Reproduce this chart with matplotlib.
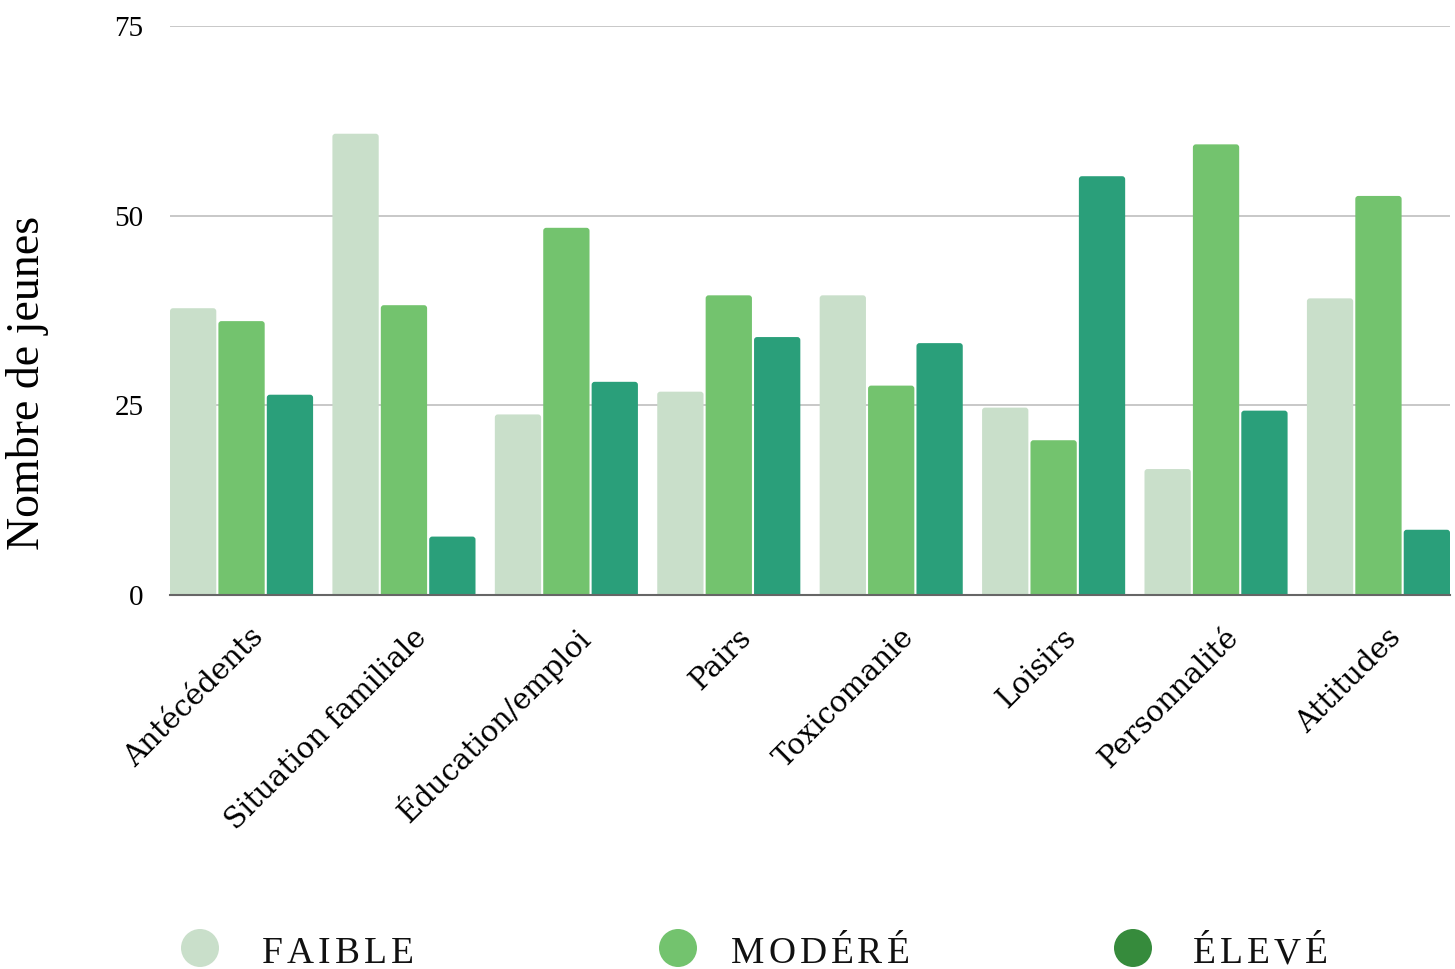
import matplotlib
matplotlib.use("Agg")
import matplotlib.pyplot as plt
import numpy as np
from matplotlib.patches import FancyBboxPatch, Ellipse
from matplotlib.transforms import ScaledTranslation

categories = ["Antécédents", "Situation familiale", "Éducation/emploi", "Pairs",
              "Toxicomanie", "Loisirs", "Personnalité", "Attitudes"]
series_names = ["FAIBLE", "MODÉRÉ", "ÉLEVÉ"]
faible = [37.8, 60.8, 23.8, 26.8, 39.5, 24.7, 16.6, 39.1]
modere = [36.1, 38.2, 48.4, 39.5, 27.6, 20.4, 59.4, 52.6]
eleve = [26.4, 7.7, 28.1, 34.0, 33.2, 55.2, 24.3, 8.6]
yticks = [0, 25, 50, 75]

bar_colors = ["#c9dfca", "#73c36e", "#2a9f7a"]
legend_colors = ["#c9dfca", "#73c36e", "#368b3c"]

W, H = 1455, 969
fig = plt.figure(figsize=(W / 100, H / 100), dpi=100)
ax = fig.add_axes([170 / W, 1 - 595 / H, 1280 / W, (595 - 26) / H])

FONT = "Liberation Serif"
LABFONT = "DejaVu Serif"
slot = 0.298
width = 0.285
x = np.arange(len(categories))
values = [faible, modere, eleve]

ax.set_xlim(-slot - width / 2, len(categories) - 1 + slot + width / 2)
ax.set_ylim(0, 75)
xpp = (ax.get_xlim()[1] - ax.get_xlim()[0]) / 1280.0
ypp = 75.0 / 569.0
radius_px = 3.0

for i, (vals, col) in enumerate(zip(values, bar_colors)):
    bars = ax.bar(x + (i - 1) * slot, vals, width=width, color=col, zorder=3)
    for r in bars:
        bx, by = r.get_x(), r.get_y()
        bw, bh = r.get_width(), r.get_height()
        ext = radius_px * 2 * ypp
        p = FancyBboxPatch((bx, by - ext), bw, bh + ext,
                           boxstyle=f"round,pad=0,rounding_size={radius_px * xpp}",
                           mutation_aspect=ypp / xpp,
                           facecolor=col, edgecolor="none", zorder=3)
        ax.add_patch(p)
        r.remove()

ax.set_yticks(yticks)
ax.set_yticklabels([str(t) for t in yticks], fontsize=21, fontfamily=FONT)
ax.tick_params(axis="y", length=0, pad=19)
ax.grid(axis="y", color="#c4c4c4", linewidth=1.3, zorder=0)
ax.set_axisbelow(True)
for s in ["top", "right", "left"]:
    ax.spines[s].set_visible(False)
ax.spines["bottom"].set_color("#666666")
ax.spines["bottom"].set_linewidth(1.5)
ax.spines["bottom"].set_zorder(4)

ax.set_xticks(x)
ax.set_xticklabels(categories, rotation=45, ha="right", va="center",
                   rotation_mode="anchor", fontsize=21, fontfamily=LABFONT)
ax.tick_params(axis="x", length=0, pad=0)
off = ScaledTranslation(18 / 100, -38 / 100, fig.dpi_scale_trans)
for lab in ax.get_xticklabels():
    lab.set_transform(lab.get_transform() + off)

fig.text(28 / W, 1 - 383 / H, "Nombre de jeunes", rotation=90, ha="center",
         va="center", fontsize=33, fontfamily=FONT)

# legend with letter spacing
fig.canvas.draw()
renderer = fig.canvas.get_renderer()
circle_x = [200, 678, 1133]
text_x = [262, 731, 1193]
spacing = 4
for name, cx, tx, col in zip(series_names, circle_x, text_x, legend_colors):
    fig.add_artist(Ellipse((cx / W, 1 - 948 / H), 38 / W, 38 / H,
                           transform=fig.transFigure, facecolor=col,
                           edgecolor="none"))
    px = tx
    for ch in name:
        t = fig.text(px / W, 1 - 963 / H, ch, ha="left", va="baseline",
                     fontsize=27, fontfamily=FONT, color="#111111")
        bb = t.get_window_extent(renderer=renderer)
        px += bb.width + spacing

fig.savefig("out.png", dpi=100)
